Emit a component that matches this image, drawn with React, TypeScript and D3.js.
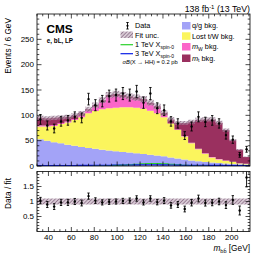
import * as d3 from "d3";

// binning: 6 GeV bins starting at 30 GeV
const binStart = 30;
const binWidth = 6;

// background yields per bin (stacked bottom -> top)
const qgBkg = [53, 50, 47, 45, 42, 40, 37.5, 35.5, 34, 32, 30.5, 29, 27.5, 26.5, 25, 23.5, 22, 20.5, 19, 17, 15, 13, 11, 9.5, 8, 7, 6, 5, 4, 3.5, 3];
const lostTWBkg = [25, 28, 32, 38, 44, 51, 58.5, 68.5, 74.5, 80, 83.5, 86, 88.5, 89.5, 90, 89.5, 87, 83.5, 77, 67, 56, 45, 34, 23.5, 16, 10, 7, 5, 4, 1.5, 1];
const mWBkg = [2, 2, 2, 2, 2, 2, 3, 5, 8.5, 15, 22, 23, 20, 17, 16, 15, 12, 9, 4, 0, 1, 1, 1, 1, 1, 1, 1, 1, 0.5, 0.5, 0.5];
const mtBkg = [15, 14, 14, 11, 9, 7, 5, 3, 3, 3, 4, 4, 4, 4, 4, 4, 4, 5, 5, 8, 13, 26, 41.5, 57, 67, 74, 71.5, 60, 42.5, 26.5, 13.5];

// signals
const sig1TeV = [0, 0, 0, 0, 0, 0, 0, 0.2, 0.3, 0.5, 0.8, 1.2, 1.8, 2.5, 3.5, 4.5, 5, 5, 4.5, 3.5, 2.5, 1.5, 1, 0.6, 0.4, 0.3, 0.2, 0.2, 0.1, 0.1, 0.1];
const sig3TeV = [1, 1, 1, 1, 1, 1, 1.2, 1.2, 1.5, 1.5, 1.5, 2, 2, 2, 2.2, 2.5, 2.5, 2.5, 2.2, 2, 1.8, 1.5, 1.5, 1.5, 1.5, 1.2, 1.2, 1, 1, 1, 1];

// observed data
const dataCounts = [92, 80, 74, 88, 90, 97, 95, 132, 120, 128, 138, 140, 143, 140, 147, 125, 143, 114, 110, 88, 84, 60, 78, 97, 87, 90, 84, 61, 52, 22, 33];
const ratioVals = [1.03, 0.9, 0.83, 0.97, 0.97, 1.0, 0.95, 1.18, 1.03, 0.97, 0.99, 1.0, 1.02, 1.03, 1.1, 0.97, 1.1, 0.98, 1.03, 0.87, 0.9, 0.75, 0.96, 1.1, 0.95, 0.96, 1.0, 0.88, 1.05, 0.7, 1.8];

const fitUncRel = 0.045;
const ratioBand = 0.1;

const yTicks = [0, 50, 100, 150, 200, 250];
const ratioTicks = [0.5, 1, 1.5];
const xTicks = [40, 60, 80, 100, 120, 140, 160, 180, 200];

const FONT = "'Liberation Sans', Arial, sans-serif";

const x = d3.scaleLinear().domain([30, 216]).range([37, 250]);
const y = d3.scaleLinear().domain([0, 300]).range([166, 14]);
const yr = d3.scaleLinear().domain([0, 2]).range([231.5, 171.5]);

const nBins = dataCounts.length;
const edges = d3.range(nBins + 1).map((i) => binStart + i * binWidth);
const centers = d3.range(nBins).map((i) => binStart + (i + 0.5) * binWidth);

const table = d3.range(nBins).map((i) => ({
  qg: qgBkg[i], tw: lostTWBkg[i], mw: mWBkg[i], mt: mtBkg[i],
}));
const keys = ["qg", "tw", "mw", "mt"];
const colors: Record<string, string> = {
  qg: "#a3a3f7",
  tw: "#fbf55d",
  mw: "#fb65c9",
  mt: "#9a305f",
};
const series = d3.stack<any>().keys(keys)(table);
const totals = d3.range(nBins).map((i) => qgBkg[i] + lostTWBkg[i] + mWBkg[i] + mtBkg[i]);

type P = { x: number; y0: number; y1: number };
const stepPts = (lo: number[], hi: number[]): P[] => {
  const pts: P[] = edges.slice(0, nBins).map((e, i) => ({ x: e, y0: lo[i], y1: hi[i] }));
  pts.push({ x: edges[nBins], y0: lo[nBins - 1], y1: hi[nBins - 1] });
  return pts;
};

const areaTop = d3.area<P>().x((d) => x(d.x)).y0((d) => y(d.y0)).y1((d) => y(d.y1)).curve(d3.curveStepAfter);
const areaRatio = d3.area<P>().x((d) => x(d.x)).y0((d) => yr(d.y0)).y1((d) => yr(d.y1)).curve(d3.curveStepAfter);
const lineTop = d3.line<P>().x((d) => x(d.x)).y((d) => y(d.y1)).curve(d3.curveStepAfter);

function Ticks({ left, right, top, bottom, xs, ys, xMinor, yMinor, yScale, maj, min }: any) {
  const out: any[] = [];
  xs.forEach((v: number, i: number) => {
    out.push(<line key={"xb" + i} x1={x(v)} x2={x(v)} y1={bottom} y2={bottom - maj} />);
    out.push(<line key={"xt" + i} x1={x(v)} x2={x(v)} y1={top} y2={top + maj} />);
  });
  xMinor.forEach((v: number, i: number) => {
    out.push(<line key={"xmb" + i} x1={x(v)} x2={x(v)} y1={bottom} y2={bottom - min} />);
    out.push(<line key={"xmt" + i} x1={x(v)} x2={x(v)} y1={top} y2={top + min} />);
  });
  ys.forEach((v: number, i: number) => {
    out.push(<line key={"yl" + i} x1={left} x2={left + maj} y1={yScale(v)} y2={yScale(v)} />);
    out.push(<line key={"yr" + i} x1={right} x2={right - maj} y1={yScale(v)} y2={yScale(v)} />);
  });
  yMinor.forEach((v: number, i: number) => {
    out.push(<line key={"yml" + i} x1={left} x2={left + min} y1={yScale(v)} y2={yScale(v)} />);
    out.push(<line key={"ymr" + i} x1={right} x2={right - min} y1={yScale(v)} y2={yScale(v)} />);
  });
  return <g stroke="#000" strokeWidth={0.7}>{out}</g>;
}

function DataPoints({ vals, errs, scale }: { vals: number[]; errs: number[]; scale: any }) {
  return (
    <g stroke="#000" strokeWidth={0.9}>
      {vals.map((v, i) => {
        const cx = x(centers[i]);
        const yTop = scale(v + errs[i]);
        const yBot = scale(Math.max(0, v - errs[i]));
        return (
          <g key={i}>
            <line x1={cx} x2={cx} y1={yTop} y2={yBot} />
            <line x1={cx - 1.2} x2={cx + 1.2} y1={yTop} y2={yTop} />
            <line x1={cx - 1.2} x2={cx + 1.2} y1={yBot} y2={yBot} />
            <circle cx={cx} cy={scale(v)} r={1.2} fill="#000" stroke="none" />
          </g>
        );
      })}
    </g>
  );
}

export default function App() {
  const xMajor = xTicks;
  const xMinor = d3.range(30, 216, 5).filter((v) => v % 20 !== 0);
  const yMinor = d3.range(0, 300, 10).filter((v) => v % 50 !== 0);
  const rMinor = d3.range(0, 2, 0.1).map((v) => +v.toFixed(1)).filter((v) => !ratioTicks.includes(v) && v > 0);

  const dataErr = dataCounts.map((v) => Math.sqrt(v));
  const ratioErr = ratioVals.map((r, i) => r / Math.sqrt(dataCounts[i]));

  const bandTop = stepPts(totals.map((t) => t * (1 - fitUncRel)), totals.map((t) => t * (1 + fitUncRel)));
  const bandRatio = stepPts(totals.map(() => 1 - ratioBand), totals.map(() => 1 + ratioBand));

  const legTxt = { fontSize: 7.3, fontFamily: FONT } as const;

  return (
    <svg width={266} height={256} style={{ position: "absolute", left: 0, top: 0, background: "#fff" }} fontFamily={FONT}>
      <defs>
        <pattern id="hatch" width={2.6} height={2.6} patternUnits="userSpaceOnUse" patternTransform="rotate(45)">
          <rect width={2.6} height={2.6} fill="#b59db1" fillOpacity={0.55} />
          <line x1={0} y1={0} x2={0} y2={2.6} stroke="#6e4a68" strokeWidth={1.1} />
        </pattern>
        <clipPath id="clipTop"><rect x={37} y={14} width={213} height={152} /></clipPath>
        <clipPath id="clipRatio"><rect x={37} y={171.5} width={213} height={60} /></clipPath>
      </defs>

      {/* top panel */}
      <g clipPath="url(#clipTop)">
        {series.map((s) => (
          <path key={s.key} fill={colors[s.key]} d={areaTop(stepPts(s.map((d) => d[0]), s.map((d) => d[1])))!} />
        ))}
        <path fill="url(#hatch)" d={areaTop(bandTop)!} />
        <path fill="none" stroke="#2bd12b" strokeWidth={1.1} d={lineTop(stepPts(sig1TeV.map(() => 0), sig1TeV))!} />
        <path fill="none" stroke="#0a1ee6" strokeWidth={1.1} d={lineTop(stepPts(sig3TeV.map(() => 0), sig3TeV))!} />
        <DataPoints vals={dataCounts} errs={dataErr} scale={y} />
      </g>
      <rect x={37} y={14} width={213} height={152} fill="none" stroke="#000" strokeWidth={0.8} />
      <Ticks left={37} right={250} top={14} bottom={166} xs={xMajor} ys={yTicks} xMinor={xMinor} yMinor={yMinor} yScale={y} maj={4.5} min={2.3} />
      {yTicks.map((v) => (
        <text key={v} x={34} y={y(v) + 2.8} fontSize={8} textAnchor="end">{v}</text>
      ))}
      <text transform="translate(10.8,18) rotate(-90)" fontSize={8.3} textAnchor="end">Events / 6 GeV</text>

      {/* header */}
      <text x={250} y={12.3} fontSize={8.8} textAnchor="end">
        138 fb<tspan dy={-3.2} fontSize={6}>-1</tspan><tspan dy={3.2}> (13 TeV)</tspan>
      </text>
      <text x={46.5} y={32.5} fontSize={11.8} fontWeight="bold">CMS</text>
      <text x={46.8} y={42.5} fontSize={6.3} fontWeight="bold">e, bL, LP</text>

      {/* legend column 1 */}
      <g>
        <line x1={127.5} x2={127.5} y1={22.5} y2={29} stroke="#000" strokeWidth={0.9} />
        <line x1={126.3} x2={128.7} y1={22.5} y2={22.5} stroke="#000" strokeWidth={0.9} />
        <line x1={126.3} x2={128.7} y1={29} y2={29} stroke="#000" strokeWidth={0.9} />
        <circle cx={127.5} cy={25.8} r={1.1} />
        <text x={135} y={28.4} {...legTxt}>Data</text>

        <rect x={120.5} y={31.5} width={12.5} height={6.5} fill="url(#hatch)" />
        <text x={135} y={37.7} {...legTxt}>Fit unc.</text>

        <line x1={120.5} x2={133} y1={44.7} y2={44.7} stroke="#2bd12b" strokeWidth={1.2} />
        <text x={135} y={47.3} {...legTxt}>1 TeV X<tspan dy={1.8} fontSize={5}>spin-0</tspan></text>

        <line x1={120.5} x2={133} y1={53.7} y2={53.7} stroke="#0a1ee6" strokeWidth={1.2} />
        <text x={135} y={56.3} {...legTxt}>3 TeV X<tspan dy={1.8} fontSize={5}>spin-0</tspan></text>

        <text x={122.5} y={63.6} fontSize={5.8}>
          <tspan fontStyle="italic">σ</tspan><tspan fontStyle="italic">B</tspan>(X → HH) = 0.2 pb
        </text>
      </g>

      {/* legend column 2 */}
      <g>
        <rect x={182} y={22} width={8.5} height={7.5} fill={colors.qg} />
        <text x={192} y={28.4} {...legTxt}>q/g bkg.</text>
        <rect x={182} y={32.3} width={8.5} height={7.5} fill={colors.tw} />
        <text x={192} y={38.7} {...legTxt}>Lost t/W bkg.</text>
        <rect x={182} y={43} width={8.5} height={7.5} fill={colors.mw} />
        <text x={192} y={49.2} {...legTxt}><tspan fontStyle="italic">m</tspan><tspan dy={1.8} fontSize={5}>W</tspan><tspan dy={-1.8}> bkg.</tspan></text>
        <rect x={182} y={54.5} width={8.5} height={7.5} fill={colors.mt} />
        <text x={192} y={60.6} {...legTxt}><tspan fontStyle="italic">m</tspan><tspan dy={1.8} fontSize={5}>t</tspan><tspan dy={-1.8}> bkg.</tspan></text>
      </g>

      {/* ratio panel */}
      <g clipPath="url(#clipRatio)">
        <path fill="url(#hatch)" d={areaRatio(bandRatio)!} />
        <DataPoints vals={ratioVals} errs={ratioErr} scale={yr} />
      </g>
      <rect x={37} y={171.5} width={213} height={60} fill="none" stroke="#000" strokeWidth={0.8} />
      <Ticks left={37} right={250} top={171.5} bottom={231.5} xs={xMajor} ys={ratioTicks} xMinor={xMinor} yMinor={rMinor} yScale={yr} maj={4.5} min={2.3} />
      {ratioTicks.map((v) => (
        <text key={v} x={34} y={yr(v) + 2.8} fontSize={8} textAnchor="end">{v}</text>
      ))}
      <text transform="translate(10.8,178) rotate(-90)" fontSize={8.3} textAnchor="end">Data / fit</text>
      {xMajor.map((v) => (
        <text key={v} x={x(v)} y={239.5} fontSize={8} textAnchor="middle">{v}</text>
      ))}
      <text x={250} y={250.5} fontSize={8.3} textAnchor="end">
        <tspan fontStyle="italic">m</tspan><tspan dy={2} fontSize={5.5}>b</tspan><tspan fontSize={5.5}>{"b\u0304"}</tspan><tspan dy={-2}> [GeV]</tspan>
      </text>
    </svg>
  );
}
